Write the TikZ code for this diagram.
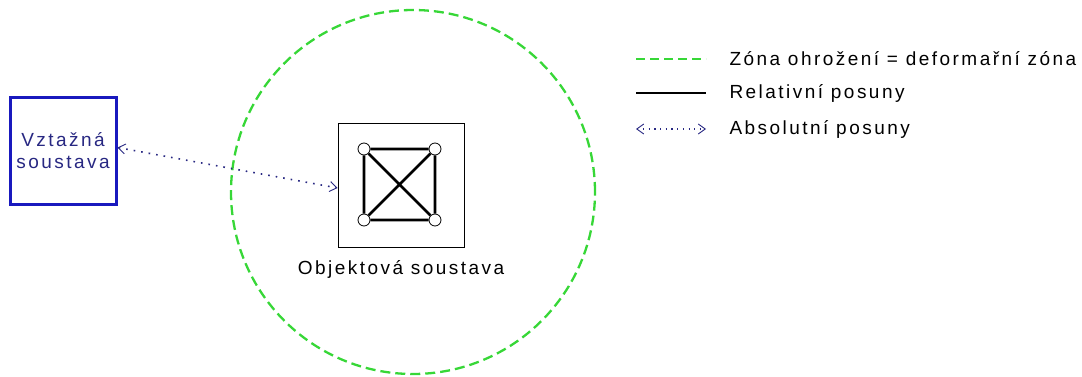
\documentclass[tikz,border=0pt]{standalone}
\usepackage{fontspec}
\setmainfont{Liberation Sans}[LetterSpace=13]
\usetikzlibrary{arrows.meta,positioning}
\definecolor{zonagreen}{RGB}{55,215,55}
\definecolor{vztblue}{RGB}{25,25,190}
\definecolor{posblue}{RGB}{40,40,130}

\begin{document}
\begin{tikzpicture}[x=1pt,y=1pt,
        zona/.style={zonagreen, line width=2.3pt, dash pattern=on 10pt off 5pt},
        relpos/.style={line width=2.6pt},
        abspos/.style={posblue, line width=1.6pt, dash pattern=on 1.6pt off 6pt,
            {Straight Barb[length=7pt,width=10pt,line width=0.9pt]}-{Straight Barb[length=7pt,width=10pt,line width=0.9pt]}},
        bod/.style={circle, draw, fill=white, line width=0.8pt, minimum size=12pt, inner sep=0pt},
        txt/.style={font=\fontsize{19}{22}\selectfont}]
        \useasboundingbox (0,0) rectangle (1082,376);
        % zona ohrozeni
        \draw[zona] (413,184) circle (182);
        \node (vztazna) [draw=vztblue, line width=3pt, minimum width=106pt, minimum height=107pt, align=center, text=posblue, txt] at (63,225.5) {Vztažná\\soustava};
        \node (objekt) [draw, line width=0.9pt, minimum width=126pt, minimum height=124pt] at (401,191) {};
        \node (popis) [txt, below=10pt of objekt] {Objektová soustava};
        % body objektu
        \node (a) [bod] at (364,227) {};
        \node (b) [bod] at (435,227) {};
        \node (c) [bod] at (364,156) {};
        \node (d) [bod] at (435,156) {};
        \draw[relpos] (a) -- (b) -- (d) -- (c) -- (a) (a) -- (d) (b) -- (c);
        \draw[abspos] ([yshift=3pt]vztazna.east) -- ([yshift=-3pt]objekt.west);
        % legenda
        \coordinate (z1) at (636,317);
        \coordinate (z2) at (706,317);
        \coordinate (r1) at (636,283);
        \coordinate (r2) at (706,283);
        \coordinate (p1) at (636,247);
        \coordinate (p2) at (706,247);
        \draw[zona, dash pattern=on 9pt off 5pt] (z1) -- (z2);
        \draw[relpos] (r1) -- (r2);
        \draw[abspos, line width=1.2pt, dash pattern=on 1.2pt off 4.5pt] (p1) -- (p2);
        \node (zonatxt) [txt, right=20pt of z2] {Zóna ohrožení = deformařní zóna};
        \node (reltxt) [txt, right=20pt of r2] {Relativní posuny};
        \node (abstxt) [txt, right=20pt of p2] {Absolutní posuny};
\end{tikzpicture}
\end{document}
